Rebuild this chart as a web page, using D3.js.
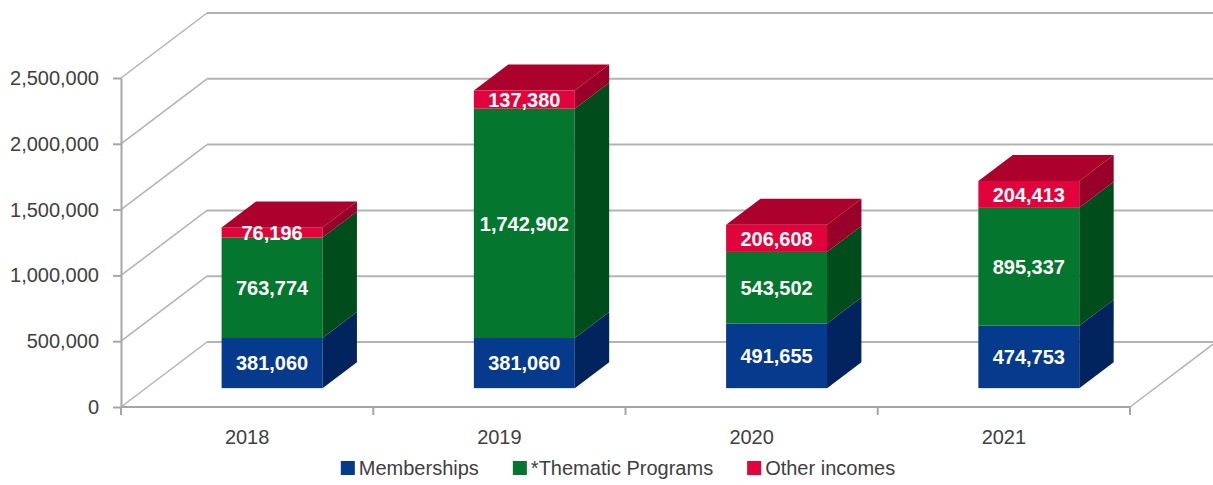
<!DOCTYPE html>
<html>
<head>
<meta charset="utf-8">
<script src="https://cdn.jsdelivr.net/npm/d3@7"></script>
<style>
body{margin:0;background:#fff;}
svg{display:block;font-family:"Liberation Sans",Arial,sans-serif;}
</style>
</head>
<body>
<svg id="chart"></svg>
<script>
/*global d3*/
var years = ["2018", "2019", "2020", "2021"];
var memberships = [381060, 381060, 491655, 474753];
var thematic = [763774, 1742902, 543502, 895337];
var others = [76196, 137380, 206608, 204413];
var seriesNames = ["Memberships", "*Thematic Programs", "Other incomes"];
var yTicks = [0, 500000, 1000000, 1500000, 2000000, 2500000];

var width = 1213, height = 485;
var depthX = 86, depthY = 65;        // full depth of the 3d box
var tFront = 0.29, tBack = 0.69;     // where the bars sit inside that depth

var colors = [
  {front: "#053a8d", side: "#01235e", top: "#0a2f73"},
  {front: "#04762d", side: "#004c1b", top: "#03612a"},
  {front: "#e1033b", side: "#98002a", top: "#ac002d"}
];

var svg = d3.select("#chart").attr("width", width).attr("height", height);

var x = d3.scaleBand().domain(years).range([121, 1130]).paddingInner(0.6).paddingOuter(0.3);
var y = d3.scaleLinear().domain([0, 2500000]).range([407, 78]);

// move a front-plane point back into the depth
function px(xx, t) { return xx + t * depthX; }
function py(yy, t) { return yy - t * depthY; }

var gridColor = "#b3b3b3";

// back wall + side wall gridlines
var grid = svg.append("g");
yTicks.forEach(function (v) {
  grid.append("line")
    .attr("x1", px(121, 1)).attr("x2", px(1130, 1))
    .attr("y1", py(y(v), 1)).attr("y2", py(y(v), 1))
    .attr("stroke", gridColor).attr("stroke-width", 2);
  grid.append("line")
    .attr("x1", 121).attr("x2", px(121, 1))
    .attr("y1", y(v)).attr("y2", py(y(v), 1))
    .attr("stroke", gridColor).attr("stroke-width", 1.5);
});
// floor right edge and front edge
grid.append("line")
  .attr("x1", 1130).attr("x2", px(1130, 1))
  .attr("y1", y(0)).attr("y2", py(y(0), 1))
  .attr("stroke", gridColor).attr("stroke-width", 1.5);
grid.append("line")
  .attr("x1", 121).attr("x2", 1130)
  .attr("y1", y(0)).attr("y2", y(0))
  .attr("stroke", "#a6a6a6").attr("stroke-width", 2);

// category ticks under the floor
d3.range(years.length + 1).forEach(function (i) {
  var xx = 121 + i * x.step();
  grid.append("line")
    .attr("x1", xx).attr("x2", xx)
    .attr("y1", y(0)).attr("y2", y(0) + 8)
    .attr("stroke", "#a6a6a6").attr("stroke-width", 2);
});

// y axis
var yAxis = svg.append("g")
  .attr("transform", "translate(121,0)")
  .call(d3.axisLeft(y).tickValues(yTicks).tickFormat(d3.format(",")).tickSize(8).tickSizeOuter(0).tickPadding(14));
yAxis.select(".domain").attr("stroke", "#a6a6a6").attr("stroke-width", 2);
yAxis.selectAll(".tick line").attr("stroke", "#a6a6a6").attr("stroke-width", 2);
yAxis.selectAll("text").attr("font-size", 20).attr("fill", "#404040").attr("font-family", "Liberation Sans, Arial, sans-serif");

// x axis labels
var xAxis = svg.append("g")
  .attr("transform", "translate(0," + y(0) + ")")
  .call(d3.axisBottom(x).tickSize(0).tickPadding(23));
xAxis.select(".domain").remove();
xAxis.selectAll("text").attr("font-size", 20).attr("fill", "#404040").attr("font-family", "Liberation Sans, Arial, sans-serif");

// stacked data
var table = years.map(function (d, i) {
  return {year: d, m: memberships[i], t: thematic[i], o: others[i]};
});
var keys = ["m", "t", "o"];
var stacked = d3.stack().keys(keys)(table);

var bars = svg.append("g");
table.forEach(function (row, i) {
  var xl = x(row.year), xr = x(row.year) + x.bandwidth();
  stacked.forEach(function (layer, s) {
    var seg = layer[i];
    var y0 = y(seg[0]), y1 = y(seg[1]);
    var c = colors[s];
    // front face
    bars.append("rect")
      .attr("x", px(xl, tFront)).attr("y", py(y1, tFront))
      .attr("width", x.bandwidth()).attr("height", y0 - y1)
      .attr("fill", c.front);
    // right side face
    bars.append("polygon")
      .attr("points", [
        [px(xr, tFront), py(y0, tFront)], [px(xr, tFront), py(y1, tFront)],
        [px(xr, tBack), py(y1, tBack)], [px(xr, tBack), py(y0, tBack)]
      ].join(" "))
      .attr("fill", c.side);
    // top face only on the last series
    if (s == stacked.length - 1) {
      bars.append("polygon")
        .attr("points", [
          [px(xl, tFront), py(y1, tFront)], [px(xr, tFront), py(y1, tFront)],
          [px(xr, tBack), py(y1, tBack)], [px(xl, tBack), py(y1, tBack)]
        ].join(" "))
        .attr("fill", c.top);
    }
  });
});

// value labels
var labels = svg.append("g");
table.forEach(function (row, i) {
  stacked.forEach(function (layer) {
    var seg = layer[i];
    labels.append("text")
      .attr("x", px(x(row.year) + x.bandwidth() / 2, tFront))
      .attr("y", py((y(seg[0]) + y(seg[1])) / 2, tFront))
      .attr("dy", "0.36em")
      .attr("text-anchor", "middle")
      .attr("font-size", 20)
      .attr("font-weight", "bold")
      .attr("fill", "#fff")
      .text(d3.format(",")(seg[1] - seg[0]));
  });
});

// legend
var legend = svg.append("g");
var lx = 0;
seriesNames.forEach(function (name, s) {
  var g = legend.append("g").attr("transform", "translate(" + lx + ",0)");
  g.append("rect").attr("x", 0).attr("y", -7).attr("width", 14).attr("height", 14).attr("fill", colors[s].front);
  var t = g.append("text").attr("x", 18).attr("y", 0).attr("dy", "0.35em")
    .attr("font-size", 20).attr("fill", "#404040").text(name);
  lx += 18 + t.node().getComputedTextLength() + 34;
});
var legendW = lx - 34;
legend.attr("transform", "translate(" + (618 - legendW / 2) + ",468)");
</script>
</body>
</html>
